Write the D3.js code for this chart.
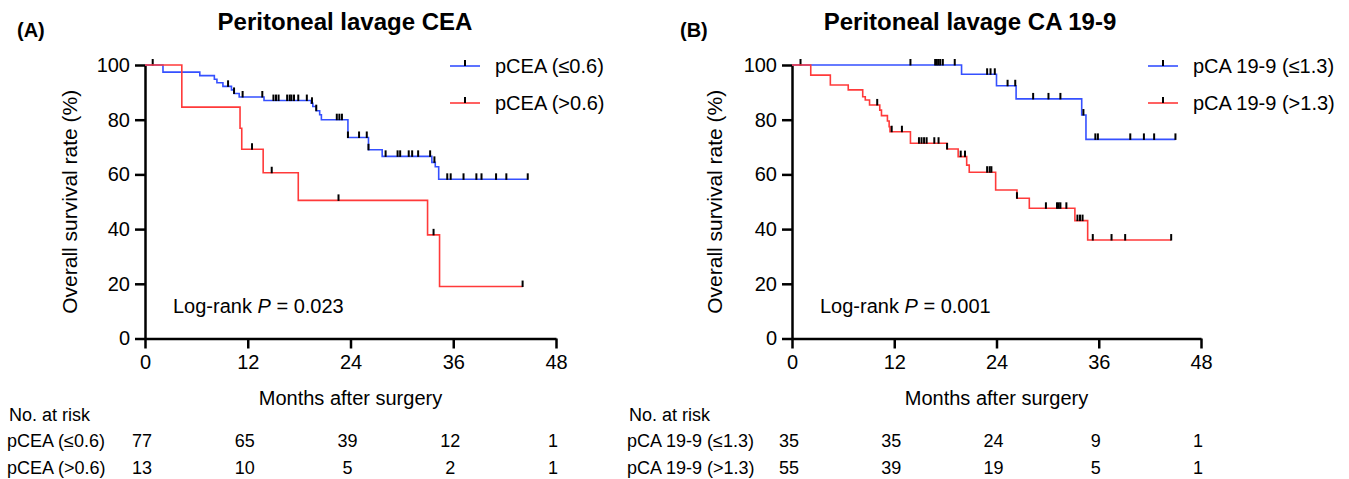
<!DOCTYPE html>
<html>
<head>
<meta charset="utf-8">
<script src="https://cdn.jsdelivr.net/npm/d3@7"></script>
<style>
  body { margin: 0; background: #fff; }
  text { font-family: "Liberation Sans", Arial, sans-serif; fill: #000; }
</style>
</head>
<body>
<div id="chart"></div>
<script>
// Axis ticks
const monthTicks = [0, 12, 24, 36, 48];
const survTicks = [0, 20, 40, 60, 80, 100];

// Panel A: peritoneal lavage CEA
const ceaLowTimes = [0, 2.1, 6.4, 8.1, 8.4, 9.1, 10.1, 10.4, 11.0, 13.9, 19.4, 19.6, 20.0, 20.4, 20.6, 23.7, 26.1, 27.7, 33.5, 33.9, 34.3, 44.7];
const ceaLowSurv = [100, 97.4, 96.1, 94.8, 93.5, 92.2, 90.9, 89.6, 88.3, 87.0, 86.0, 84.8, 83.3, 81.8, 80.0, 73.5, 69.0, 66.6, 64.4, 62.8, 58.2, 58.2];
const ceaLowCensor = [0.9, 9.7, 10.4, 11.4, 13.7, 15.0, 15.3, 15.6, 16.6, 16.9, 17.1, 17.4, 17.9, 18.9, 19.5, 20.0, 22.4, 22.7, 23.0, 23.7, 25.0, 25.9, 26.1, 28.1, 29.5, 29.8, 30.8, 31.2, 31.9, 33.3, 33.8, 35.3, 35.7, 37.2, 38.7, 39.3, 41.0, 42.2, 44.7];

const ceaHighTimes = [0, 4.3, 11.1, 11.3, 13.8, 17.9, 33.0, 34.4, 44.1];
const ceaHighSurv = [100, 84.6, 76.9, 69.2, 60.6, 50.5, 37.9, 19.0, 19.0];
const ceaHighCensor = [12.5, 14.8, 22.6, 33.7, 44.1];

const ceaLowRisk = [77, 65, 39, 12, 1];
const ceaHighRisk = [13, 10, 5, 2, 1];

// Panel B: peritoneal lavage CA 19-9
const caLowTimes = [0, 19.9, 24.0, 26.3, 34.0, 34.5, 45.0];
const caLowSurv = [100, 96.6, 92.4, 87.6, 81.7, 72.8, 72.8];
const caLowCensor = [1.0, 13.9, 16.8, 17.0, 17.2, 17.4, 17.7, 19.1, 22.9, 23.3, 23.8, 25.3, 26.2, 28.3, 30.1, 31.5, 34.2, 35.6, 35.9, 39.7, 41.3, 42.5, 45.0];

const caHighTimes = [0, 2.2, 4.5, 6.6, 8.3, 8.6, 9.1, 10.3, 10.5, 11.2, 11.4, 11.5, 13.9, 18.2, 19.5, 20.5, 20.8, 23.9, 26.4, 27.85, 33.2, 34.7, 44.5];
const caHighSurv = [100, 96.3, 92.7, 90.9, 88.4, 87.2, 85.4, 83.5, 81.5, 79.5, 77.4, 75.6, 71.4, 69.3, 66.5, 63.4, 60.8, 54.3, 51.3, 47.6, 43.1, 36.0, 36.0];
const caHighCensor = [10.0, 11.7, 12.9, 14.9, 15.2, 15.5, 15.8, 16.7, 17.2, 18.2, 19.8, 20.3, 22.9, 23.2, 23.4, 26.4, 29.8, 31.1, 31.3, 31.5, 32.2, 33.5, 33.8, 34.1, 35.3, 37.5, 39.1, 44.5];

const caLowRisk = [35, 35, 24, 9, 1];
const caHighRisk = [55, 39, 19, 5, 1];

const BLUE = "#3550ff";
const RED = "#ff3a3a";

const width = 1349, height = 479;

const svg = d3.select("#chart")
    .append("svg")
    .attr("width", width)
    .attr("height", height);

// survival value at time t (step function)
const survAt = (times, surv, t) => surv[Math.max(0, d3.bisectRight(times, t) - 1)];

const drawPanel = (p) => {
    const x = d3.scaleLinear().domain([0, 48]).range([p.x0, p.x1]);
    const y = d3.scaleLinear().domain([0, 100]).range([338.5, 65]);

    const g = svg.append("g");

    // letter and title
    g.append("text")
        .attr("x", p.letterX).attr("y", 37)
        .attr("font-size", 20).attr("font-weight", "bold")
        .text(p.letter);
    g.append("text")
        .attr("x", p.titleX).attr("y", 30)
        .attr("text-anchor", "middle")
        .attr("font-size", 24).attr("font-weight", "bold")
        .text(p.title);

    // axes
    const yAxis = g.append("g")
        .attr("transform", `translate(${p.x0},0)`)
        .call(d3.axisLeft(y).tickValues(survTicks).tickSize(10).tickSizeOuter(0).tickPadding(5));
    const xAxis = g.append("g")
        .attr("transform", `translate(0,${y(0)})`)
        .call(d3.axisBottom(x).tickValues(monthTicks).tickSize(10).tickSizeOuter(0).tickPadding(6));
    [yAxis, xAxis].forEach(a => {
        a.attr("font-size", 20).attr("font-family", "Liberation Sans, Arial, sans-serif");
        a.select(".domain").attr("stroke", "#000").attr("stroke-width", 2.5);
        a.selectAll(".tick line").attr("stroke", "#000").attr("stroke-width", 2.5);
        a.selectAll(".tick text").attr("fill", "#000");
    });

    g.append("text")
        .attr("transform", `translate(${p.yLabelX},${(y(0) + y(100)) / 2}) rotate(-90)`)
        .attr("text-anchor", "middle")
        .attr("font-size", 21)
        .text("Overall survival rate (%)");
    g.append("text")
        .attr("x", (p.x0 + p.x1) / 2).attr("y", 405)
        .attr("text-anchor", "middle")
        .attr("font-size", 20)
        .text("Months after surgery");

    const line = d3.line()
        .x(d => x(d[0]))
        .y(d => y(d[1]))
        .curve(d3.curveStepAfter);

    p.groups.forEach(grp => {
        const pts = grp.times.map((t, i) => [t, grp.surv[i]]);
        g.append("path")
            .datum(pts)
            .attr("fill", "none")
            .attr("stroke", grp.color)
            .attr("stroke-width", 1.6)
            .attr("d", line);

        // censor marks
        g.append("g")
            .selectAll("line")
            .data(grp.censor)
            .enter().append("line")
            .attr("x1", d => x(d)).attr("x2", d => x(d))
            .attr("y1", d => y(survAt(grp.times, grp.surv, d)) - 6)
            .attr("y2", d => y(survAt(grp.times, grp.surv, d)) + 0.5)
            .attr("stroke", "#000")
            .attr("stroke-width", 2);
    });

    // legend
    p.groups.forEach((grp, i) => {
        const ly = 66 + i * 37;
        g.append("line")
            .attr("x1", p.legX).attr("x2", p.legX + 30)
            .attr("y1", ly).attr("y2", ly)
            .attr("stroke", grp.color).attr("stroke-width", 1.6);
        g.append("line")
            .attr("x1", p.legX + 15).attr("x2", p.legX + 15)
            .attr("y1", ly - 6).attr("y2", ly)
            .attr("stroke", "#000").attr("stroke-width", 2);
        g.append("text")
            .attr("x", p.legX + 45).attr("y", ly + 7)
            .attr("font-size", 20)
            .text(grp.label);
    });

    // log-rank
    const lr = g.append("text")
        .attr("x", p.x0 + 28).attr("y", 313)
        .attr("font-size", 20);
    lr.append("tspan").text("Log-rank ");
    lr.append("tspan").attr("font-style", "italic").text("P");
    lr.append("tspan").text(` = ${p.pValue}`);

    // number at risk table
    g.append("text")
        .attr("x", p.tableX + 2).attr("y", 421)
        .attr("font-size", 18)
        .text("No. at risk");
    p.groups.forEach((grp, i) => {
        const ry = 447 + i * 27;
        g.append("text")
            .attr("x", p.tableX).attr("y", ry)
            .attr("font-size", 18)
            .text(grp.label);
        g.append("g")
            .selectAll("text")
            .data(grp.risk)
            .enter().append("text")
            .attr("x", (d, j) => x(monthTicks[j]) - 3)
            .attr("y", ry)
            .attr("text-anchor", "middle")
            .attr("font-size", 18)
            .text(d => d);
    });
};

drawPanel({
    x0: 145, x1: 556, letter: "(A)", letterX: 17,
    title: "Peritoneal lavage CEA", titleX: 345,
    yLabelX: 77, legX: 450, tableX: 7, pValue: "0.023",
    groups: [
        { label: "pCEA (≤0.6)", color: BLUE, times: ceaLowTimes, surv: ceaLowSurv, censor: ceaLowCensor, risk: ceaLowRisk },
        { label: "pCEA (>0.6)", color: RED, times: ceaHighTimes, surv: ceaHighSurv, censor: ceaHighCensor, risk: ceaHighRisk }
    ]
});

drawPanel({
    x0: 792, x1: 1201, letter: "(B)", letterX: 680,
    title: "Peritoneal lavage CA 19-9", titleX: 970,
    yLabelX: 722, legX: 1148, tableX: 627, pValue: "0.001",
    groups: [
        { label: "pCA 19-9 (≤1.3)", color: BLUE, times: caLowTimes, surv: caLowSurv, censor: caLowCensor, risk: caLowRisk },
        { label: "pCA 19-9 (>1.3)", color: RED, times: caHighTimes, surv: caHighSurv, censor: caHighCensor, risk: caHighRisk }
    ]
});
</script>
</body>
</html>
